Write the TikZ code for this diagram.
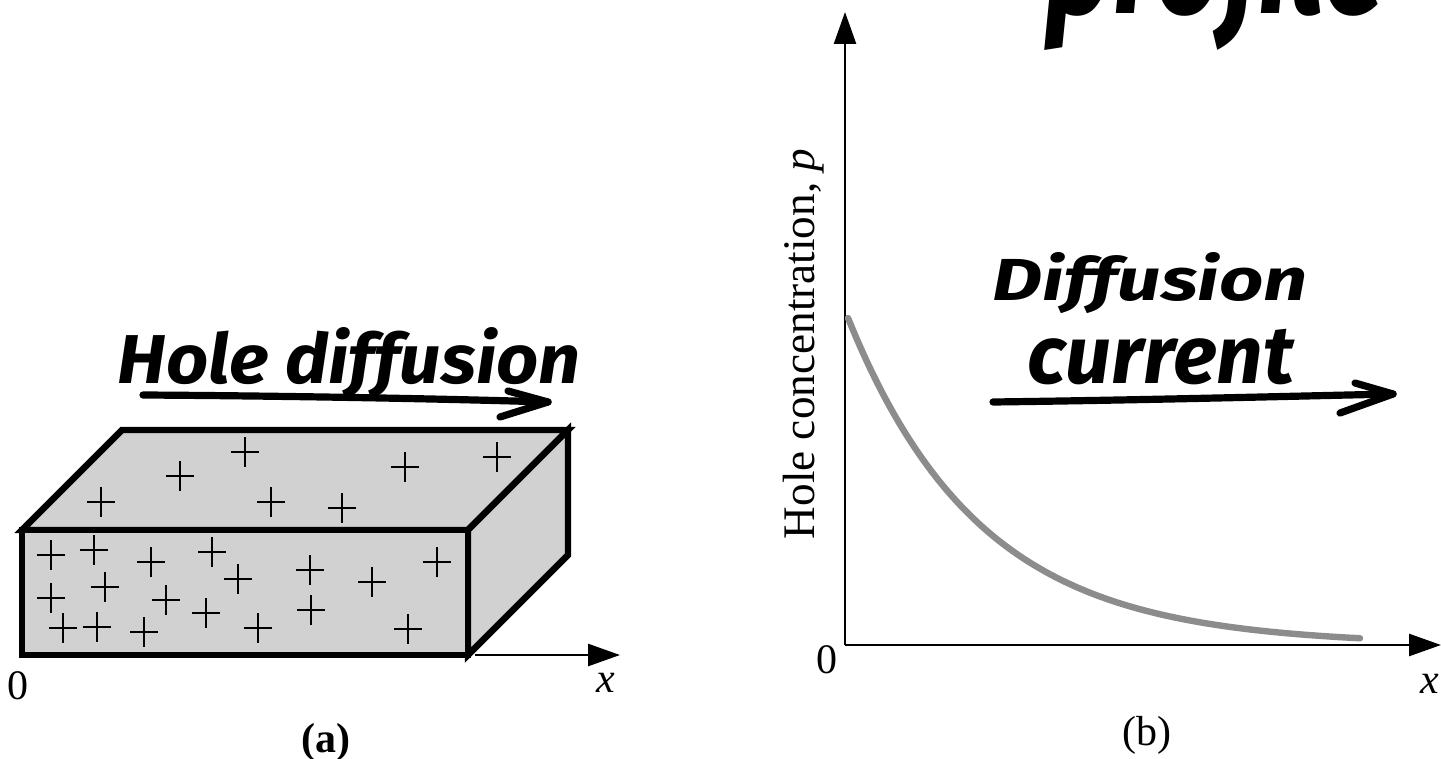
\documentclass[tikz,border=0pt]{standalone}
\usepackage{fontspec}
\setmainfont{Liberation Serif}
\newfontfamily\hand{Fira Sans}
\usetikzlibrary{arrows.meta}
\begin{document}
\begin{tikzpicture}[x=0.25pt,y=-0.25pt,
  axis/.style={line width=0.65pt,-{Triangle[length=8pt,width=5.5pt]}},
  box/.style={line width=1.6pt,fill=black!18,line join=miter},
  pl/.style={line width=0.65pt},
  marker/.style={line width=1.8pt,line cap=round,line join=round},
  hw/.style={inner sep=0pt,anchor=base west},
  lbl/.style={inner sep=0pt,font=\fontsize{10.5}{12}\selectfont}]
\clip (0,0) rectangle (1441,758);
\fill[white] (0,0) rectangle (1441,758);
% ---------- panel (a) ----------
\coordinate (A) at (22,530);
\coordinate (B) at (468,530);
\coordinate (C) at (468,655);
\coordinate (D) at (22,655);
\coordinate (E) at (122,430);
\coordinate (F) at (568,430);
\coordinate (G) at (568,555);
\filldraw[box] (A) -- (E) -- (F) -- (B) -- cycle;
\filldraw[box] (B) -- (F) -- (G) -- (C) -- cycle;
\filldraw[box] (A) -- (B) -- (C) -- (D) -- cycle;
\foreach \px/\py in {245/452,180/476,101/502,271/502,342/508,405/467,497/457,
  51/555,94/550,151/562,212/552,238/579,310/570,372/582,437/562,
  105/587,51/598,166/600,206/613,311/610,
  63/628,97/627,144/632,258/628,408/629}
  \draw[pl] ({\px-14},\py) -- ({\px+14},\py) (\px,{\py-15}) -- (\px,{\py+15});
\coordinate (ax0) at (475,655);
\coordinate (ax1) at (620,655);
\draw[axis] (ax0) -- (ax1);
\node[lbl] (zeroa) at (18,686) {0};
\node[lbl] (xa) at (606,683) {\textit{x}};
\node[lbl] (capa) at (326,742) {\bfseries (a)};
\node[hw] (hd) at (117,383) {\resizebox{115.75pt}{14pt}{\hand\bfseries\itshape Hole diffusion}};
\coordinate (hd0) at (143,395);
\coordinate (hd1) at (548,402);
\coordinate (hdu) at (508,391);
\coordinate (hdl) at (500,417);
\draw[marker] (hd0) .. controls (300,396) and (450,399) .. (hd1);
\draw[marker] (hdu) -- (hd1) -- (hdl);
% ---------- panel (b) ----------
\coordinate (O) at (845,645);
\coordinate (Ytop) at (845,12);
\coordinate (Xend) at (1441,645);
\draw[axis] (O) -- (Ytop);
\draw[axis] (O) -- (Xend);
\draw[line width=1.6pt,black!45,line cap=round] plot[domain=848:1360,samples=100,smooth] (\x,{645-327*exp(-(\x-848)/132)});
\node[lbl,rotate=90,font=\fontsize{11.3}{13}\selectfont] (yl) at (804,344) {Hole concentration, \textit{p}};
\node[lbl] (zerob) at (827,660) {0};
\node[lbl] (xb) at (1430,684) {\textit{x}};
\node[lbl] (capb) at (1147,735) {(b)};
\node[hw] (df) at (992,300) {\resizebox{78.75pt}{12pt}{\hand\bfseries\itshape Diffusion}};
\node[hw] (cu) at (1027,383) {\resizebox{66.5pt}{!}{\hand\bfseries\itshape current}};
\coordinate (dc0) at (993,402);
\coordinate (dc1) at (1393,394);
\coordinate (dcu) at (1355,383);
\coordinate (dcl) at (1340,413);
\draw[marker] (dc0) .. controls (1150,400) and (1300,396) .. (dc1);
\draw[marker] (dcu) -- (dc1) -- (dcl);
\node[hw] (pf) at (1045,14) {\resizebox{85pt}{31.5pt}{\hand\bfseries\itshape profile}};
\end{tikzpicture}
\end{document}
